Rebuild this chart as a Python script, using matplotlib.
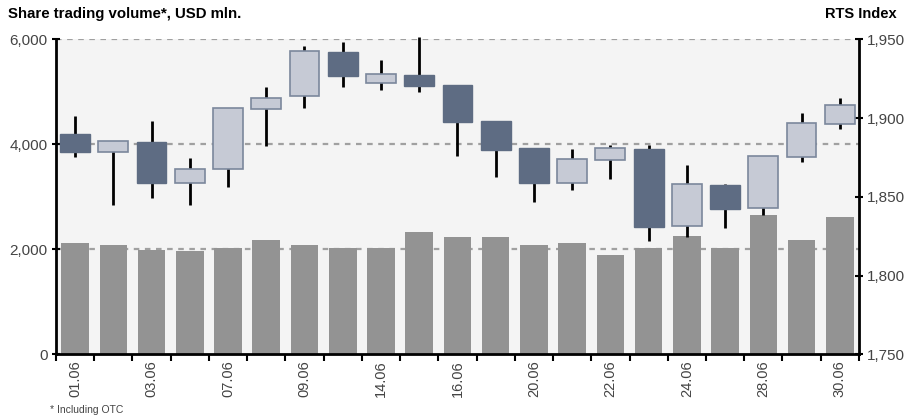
import matplotlib.pyplot as plt
import numpy as np

plt.rcParams['font.family'] = ['Liberation Sans', 'DejaVu Sans']

dates = ["01.06", "02.06", "03.06", "06.06", "07.06", "08.06", "09.06", "10.06",
         "14.06", "15.06", "16.06", "17.06", "20.06", "21.06", "22.06", "23.06",
         "24.06", "27.06", "28.06", "29.06", "30.06"]
volume = [2130, 2090, 1995, 1975, 2035, 2185, 2090, 2035, 2035, 2340, 2230,
          2230, 2090, 2130, 1885, 2035, 2250, 2035, 2665, 2185, 2625]
rts_open = [1889.9, 1878.7, 1884.8, 1859.0, 1867.5, 1906.0, 1914.2, 1941.9,
            1922.1, 1927.3, 1921.0, 1898.2, 1881.0, 1859.0, 1873.4, 1880.4,
            1831.7, 1857.6, 1842.8, 1875.5, 1896.3]
rts_close = [1878.7, 1885.3, 1859.0, 1867.5, 1906.4, 1912.6, 1942.4, 1926.9,
             1927.8, 1920.6, 1897.7, 1880.0, 1859.0, 1873.9, 1880.8, 1831.1,
             1858.0, 1842.5, 1875.8, 1896.9, 1908.1]
rts_high = [1901.3, 1885.3, 1898.2, 1874.9, 1906.4, 1919.5, 1945.7, 1948.1,
            1937.1, 1951.5, 1921.0, 1898.2, 1881.0, 1880.2, 1882.7, 1882.7,
            1870.4, 1858.5, 1875.8, 1903.2, 1912.6]
rts_low = [1875.5, 1844.9, 1849.5, 1844.7, 1856.5, 1882.5, 1906.2, 1919.5,
           1917.8, 1916.4, 1876.0, 1862.6, 1846.6, 1854.2, 1861.2, 1822.2,
           1824.8, 1830.1, 1838.5, 1872.3, 1892.9]

DARK = "#5e6c83"
LIGHT = "#c6cad5"
LIGHT_EDGE = "#7b879c"
BAR = "#939393"
TXT = "#444444"

fig = plt.figure(figsize=(9.07, 4.19), dpi=100)
ax = fig.add_axes([0.0617, 0.154, 0.8853, 0.752])
ax.set_facecolor("#f4f4f4")

x = np.arange(len(dates))

# volume bars
ax.bar(x, volume, width=0.72, color=BAR, zorder=2)
ax.set_ylim(0, 6000)
ax.set_xlim(-0.5, len(dates) - 0.5)
ax.set_yticks([0, 2000, 4000, 6000])
ax.set_yticklabels(["0", "2,000", "4,000", "6,000"])
for v in [2000, 4000, 6000]:
    ax.axhline(v, color="#a0a0a0", lw=1.6, ls=(0, (2.5, 2.5)), zorder=1)

# x ticks: marks between days, labels every other day
ax.set_xticks(np.arange(-0.5, len(dates), 1.0))
ax.set_xticklabels([])
ax.tick_params(axis="x", which="major", length=5, width=1.5, color="black",
               direction="out")
ax.set_xticks(x[::2], minor=True)
ax.set_xticklabels(dates[::2], minor=True, rotation=90, fontsize=10.5, color=TXT)
ax.tick_params(axis="x", which="minor", length=0, pad=4)
ax.tick_params(axis="y", length=6, width=1.5, direction="inout",
               labelsize=11, labelcolor=TXT, pad=3)

for s in ["top", "right"]:
    ax.spines[s].set_visible(False)
ax.spines["left"].set_linewidth(2)
ax.spines["bottom"].set_linewidth(2)

# RTS candles
ax2 = ax.twinx()
ax2.patch.set_visible(False)
ax2.set_ylim(1750, 1950)
ax2.set_yticks([1750, 1800, 1850, 1900, 1950])
ax2.set_yticklabels(["1,750", "1,800", "1,850", "1,900", "1,950"])
ax2.tick_params(axis="y", length=6, width=1.5, direction="inout",
                labelsize=11, labelcolor=TXT, pad=3)
for s in ["top", "left", "bottom"]:
    ax2.spines[s].set_visible(False)
ax2.spines["right"].set_linewidth(2)

ax2.vlines(x, rts_low, rts_high, color="black", lw=2, zorder=3, clip_on=False)
for i in x:
    o, c = rts_open[i], rts_close[i]
    if c >= o:
        ax2.bar(i, c - o, bottom=o, width=0.78, color=LIGHT,
                edgecolor=LIGHT_EDGE, linewidth=1.2, zorder=4)
    else:
        ax2.bar(i, o - c, bottom=c, width=0.78, color=DARK,
                edgecolor=DARK, linewidth=1.0, zorder=4)

fig.text(0.009, 0.966, "Share trading volume*, USD mln.", fontsize=10.8,
         fontweight="bold", color="black", va="center")
fig.text(0.989, 0.966, "RTS Index", fontsize=10.5, fontweight="bold",
         color="black", va="center", ha="right")
fig.text(0.055, 0.022, "* Including OTC", fontsize=7.5, color=TXT,
         va="center")

fig.savefig("out.png", dpi=100)
